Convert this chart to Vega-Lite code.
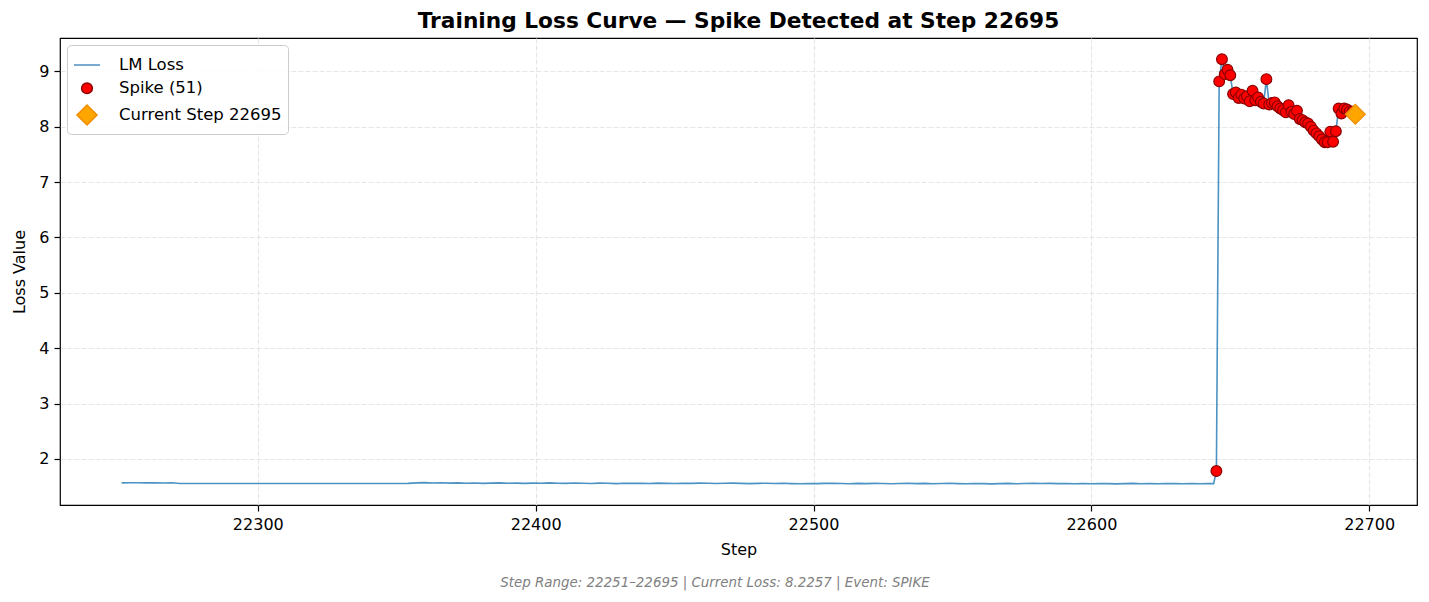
{
  "$schema": "https://vega.github.io/schema/vega-lite/v6.json",
  "width": 1357,
  "height": 467,
  "autosize": {"type": "none"},
  "padding": {"left": 60, "top": 38, "right": 12, "bottom": 97},
  "background": "white",
  "config": {
    "font": "DejaVu Sans",
    "view": {"stroke": "black", "strokeWidth": 1.2},
    "axis": {
      "labelFont": "DejaVu Sans",
      "titleFont": "DejaVu Sans",
      "labelFontSize": 16,
      "titleFontSize": 16,
      "titleFontWeight": "normal",
      "labelColor": "black",
      "titleColor": "black",
      "tickColor": "black",
      "tickWidth": 1.2,
      "tickSize": 6,
      "labelPadding": 5,
      "domain": false,
      "gridColor": "#e6e6e6",
      "gridDash": [5, 2],
      "gridWidth": 1.2
    },
    "legend": {
      "title": null,
      "orient": "top-left",
      "offset": 7,
      "padding": 6,
      "fillColor": "rgba(255,255,255,0.85)",
      "strokeColor": "#cccccc",
      "cornerRadius": 4,
      "labelFontSize": 16.5,
      "labelFont": "DejaVu Sans",
      "labelColor": "black",
      "labelOffset": 18,
      "labelLimit": 400,
      "rowPadding": 5,
      "symbolOpacity": 1
    }
  },
  "title": {
    "text": "Training Loss Curve — Spike Detected at Step 22695",
    "fontSize": 21.7,
    "fontWeight": "bold",
    "color": "black",
    "anchor": "middle",
    "frame": "group",
    "offset": 5
  },
  "datasets": {
    "loss": [
      {"step": 22251, "loss": 1.566, "kind": "normal"},
      {"step": 22254, "loss": 1.568, "kind": "normal"},
      {"step": 22257, "loss": 1.570, "kind": "normal"},
      {"step": 22260, "loss": 1.567, "kind": "normal"},
      {"step": 22263, "loss": 1.569, "kind": "normal"},
      {"step": 22266, "loss": 1.565, "kind": "normal"},
      {"step": 22269, "loss": 1.568, "kind": "normal"},
      {"step": 22272, "loss": 1.556, "kind": "normal"},
      {"step": 22275, "loss": 1.555, "kind": "normal"},
      {"step": 22278, "loss": 1.555, "kind": "normal"},
      {"step": 22281, "loss": 1.555, "kind": "normal"},
      {"step": 22284, "loss": 1.555, "kind": "normal"},
      {"step": 22287, "loss": 1.555, "kind": "normal"},
      {"step": 22290, "loss": 1.555, "kind": "normal"},
      {"step": 22293, "loss": 1.555, "kind": "normal"},
      {"step": 22296, "loss": 1.555, "kind": "normal"},
      {"step": 22299, "loss": 1.555, "kind": "normal"},
      {"step": 22302, "loss": 1.555, "kind": "normal"},
      {"step": 22305, "loss": 1.555, "kind": "normal"},
      {"step": 22308, "loss": 1.555, "kind": "normal"},
      {"step": 22311, "loss": 1.555, "kind": "normal"},
      {"step": 22314, "loss": 1.555, "kind": "normal"},
      {"step": 22317, "loss": 1.555, "kind": "normal"},
      {"step": 22320, "loss": 1.555, "kind": "normal"},
      {"step": 22323, "loss": 1.555, "kind": "normal"},
      {"step": 22326, "loss": 1.555, "kind": "normal"},
      {"step": 22329, "loss": 1.555, "kind": "normal"},
      {"step": 22332, "loss": 1.555, "kind": "normal"},
      {"step": 22335, "loss": 1.555, "kind": "normal"},
      {"step": 22338, "loss": 1.555, "kind": "normal"},
      {"step": 22341, "loss": 1.555, "kind": "normal"},
      {"step": 22344, "loss": 1.555, "kind": "normal"},
      {"step": 22347, "loss": 1.555, "kind": "normal"},
      {"step": 22350, "loss": 1.555, "kind": "normal"},
      {"step": 22354, "loss": 1.557, "kind": "normal"},
      {"step": 22357, "loss": 1.566, "kind": "normal"},
      {"step": 22360, "loss": 1.571, "kind": "normal"},
      {"step": 22363, "loss": 1.565, "kind": "normal"},
      {"step": 22366, "loss": 1.569, "kind": "normal"},
      {"step": 22369, "loss": 1.562, "kind": "normal"},
      {"step": 22372, "loss": 1.567, "kind": "normal"},
      {"step": 22375, "loss": 1.560, "kind": "normal"},
      {"step": 22378, "loss": 1.565, "kind": "normal"},
      {"step": 22381, "loss": 1.558, "kind": "normal"},
      {"step": 22384, "loss": 1.563, "kind": "normal"},
      {"step": 22387, "loss": 1.566, "kind": "normal"},
      {"step": 22390, "loss": 1.559, "kind": "normal"},
      {"step": 22393, "loss": 1.562, "kind": "normal"},
      {"step": 22396, "loss": 1.557, "kind": "normal"},
      {"step": 22399, "loss": 1.563, "kind": "normal"},
      {"step": 22402, "loss": 1.560, "kind": "normal"},
      {"step": 22405, "loss": 1.566, "kind": "normal"},
      {"step": 22408, "loss": 1.561, "kind": "normal"},
      {"step": 22411, "loss": 1.558, "kind": "normal"},
      {"step": 22414, "loss": 1.564, "kind": "normal"},
      {"step": 22417, "loss": 1.560, "kind": "normal"},
      {"step": 22420, "loss": 1.556, "kind": "normal"},
      {"step": 22423, "loss": 1.562, "kind": "normal"},
      {"step": 22426, "loss": 1.559, "kind": "normal"},
      {"step": 22429, "loss": 1.554, "kind": "normal"},
      {"step": 22432, "loss": 1.561, "kind": "normal"},
      {"step": 22435, "loss": 1.557, "kind": "normal"},
      {"step": 22438, "loss": 1.560, "kind": "normal"},
      {"step": 22441, "loss": 1.556, "kind": "normal"},
      {"step": 22444, "loss": 1.562, "kind": "normal"},
      {"step": 22447, "loss": 1.558, "kind": "normal"},
      {"step": 22450, "loss": 1.555, "kind": "normal"},
      {"step": 22453, "loss": 1.561, "kind": "normal"},
      {"step": 22456, "loss": 1.557, "kind": "normal"},
      {"step": 22459, "loss": 1.563, "kind": "normal"},
      {"step": 22462, "loss": 1.559, "kind": "normal"},
      {"step": 22465, "loss": 1.555, "kind": "normal"},
      {"step": 22468, "loss": 1.560, "kind": "normal"},
      {"step": 22471, "loss": 1.562, "kind": "normal"},
      {"step": 22474, "loss": 1.557, "kind": "normal"},
      {"step": 22477, "loss": 1.553, "kind": "normal"},
      {"step": 22480, "loss": 1.558, "kind": "normal"},
      {"step": 22483, "loss": 1.561, "kind": "normal"},
      {"step": 22486, "loss": 1.556, "kind": "normal"},
      {"step": 22489, "loss": 1.559, "kind": "normal"},
      {"step": 22492, "loss": 1.554, "kind": "normal"},
      {"step": 22495, "loss": 1.551, "kind": "normal"},
      {"step": 22498, "loss": 1.556, "kind": "normal"},
      {"step": 22501, "loss": 1.553, "kind": "normal"},
      {"step": 22504, "loss": 1.557, "kind": "normal"},
      {"step": 22507, "loss": 1.560, "kind": "normal"},
      {"step": 22510, "loss": 1.555, "kind": "normal"},
      {"step": 22513, "loss": 1.552, "kind": "normal"},
      {"step": 22516, "loss": 1.557, "kind": "normal"},
      {"step": 22519, "loss": 1.554, "kind": "normal"},
      {"step": 22522, "loss": 1.558, "kind": "normal"},
      {"step": 22525, "loss": 1.555, "kind": "normal"},
      {"step": 22528, "loss": 1.551, "kind": "normal"},
      {"step": 22531, "loss": 1.556, "kind": "normal"},
      {"step": 22534, "loss": 1.559, "kind": "normal"},
      {"step": 22537, "loss": 1.554, "kind": "normal"},
      {"step": 22540, "loss": 1.557, "kind": "normal"},
      {"step": 22543, "loss": 1.552, "kind": "normal"},
      {"step": 22546, "loss": 1.556, "kind": "normal"},
      {"step": 22549, "loss": 1.559, "kind": "normal"},
      {"step": 22552, "loss": 1.554, "kind": "normal"},
      {"step": 22555, "loss": 1.551, "kind": "normal"},
      {"step": 22558, "loss": 1.556, "kind": "normal"},
      {"step": 22561, "loss": 1.553, "kind": "normal"},
      {"step": 22564, "loss": 1.549, "kind": "normal"},
      {"step": 22567, "loss": 1.554, "kind": "normal"},
      {"step": 22570, "loss": 1.557, "kind": "normal"},
      {"step": 22573, "loss": 1.552, "kind": "normal"},
      {"step": 22576, "loss": 1.556, "kind": "normal"},
      {"step": 22579, "loss": 1.559, "kind": "normal"},
      {"step": 22582, "loss": 1.555, "kind": "normal"},
      {"step": 22585, "loss": 1.558, "kind": "normal"},
      {"step": 22588, "loss": 1.553, "kind": "normal"},
      {"step": 22591, "loss": 1.556, "kind": "normal"},
      {"step": 22594, "loss": 1.551, "kind": "normal"},
      {"step": 22597, "loss": 1.555, "kind": "normal"},
      {"step": 22600, "loss": 1.552, "kind": "normal"},
      {"step": 22603, "loss": 1.556, "kind": "normal"},
      {"step": 22606, "loss": 1.553, "kind": "normal"},
      {"step": 22609, "loss": 1.549, "kind": "normal"},
      {"step": 22612, "loss": 1.554, "kind": "normal"},
      {"step": 22615, "loss": 1.557, "kind": "normal"},
      {"step": 22618, "loss": 1.552, "kind": "normal"},
      {"step": 22621, "loss": 1.555, "kind": "normal"},
      {"step": 22624, "loss": 1.551, "kind": "normal"},
      {"step": 22627, "loss": 1.554, "kind": "normal"},
      {"step": 22630, "loss": 1.556, "kind": "normal"},
      {"step": 22633, "loss": 1.552, "kind": "normal"},
      {"step": 22636, "loss": 1.555, "kind": "normal"},
      {"step": 22639, "loss": 1.551, "kind": "normal"},
      {"step": 22642, "loss": 1.554, "kind": "normal"},
      {"step": 22644, "loss": 1.553, "kind": "normal"},
      {"step": 22645, "loss": 1.78, "kind": "spike"},
      {"step": 22646, "loss": 8.82, "kind": "spike"},
      {"step": 22647, "loss": 9.22, "kind": "spike"},
      {"step": 22648, "loss": 8.95, "kind": "spike"},
      {"step": 22649, "loss": 9.03, "kind": "spike"},
      {"step": 22650, "loss": 8.93, "kind": "spike"},
      {"step": 22651, "loss": 8.59, "kind": "spike"},
      {"step": 22652, "loss": 8.62, "kind": "spike"},
      {"step": 22653, "loss": 8.52, "kind": "spike"},
      {"step": 22654, "loss": 8.58, "kind": "spike"},
      {"step": 22655, "loss": 8.51, "kind": "spike"},
      {"step": 22656, "loss": 8.55, "kind": "spike"},
      {"step": 22657, "loss": 8.46, "kind": "spike"},
      {"step": 22658, "loss": 8.65, "kind": "spike"},
      {"step": 22659, "loss": 8.48, "kind": "spike"},
      {"step": 22660, "loss": 8.53, "kind": "spike"},
      {"step": 22661, "loss": 8.45, "kind": "spike"},
      {"step": 22662, "loss": 8.42, "kind": "spike"},
      {"step": 22663, "loss": 8.86, "kind": "spike"},
      {"step": 22664, "loss": 8.40, "kind": "spike"},
      {"step": 22665, "loss": 8.43, "kind": "spike"},
      {"step": 22666, "loss": 8.44, "kind": "spike"},
      {"step": 22667, "loss": 8.37, "kind": "spike"},
      {"step": 22668, "loss": 8.33, "kind": "spike"},
      {"step": 22669, "loss": 8.30, "kind": "spike"},
      {"step": 22670, "loss": 8.26, "kind": "spike"},
      {"step": 22671, "loss": 8.39, "kind": "spike"},
      {"step": 22672, "loss": 8.27, "kind": "spike"},
      {"step": 22673, "loss": 8.23, "kind": "spike"},
      {"step": 22674, "loss": 8.29, "kind": "spike"},
      {"step": 22675, "loss": 8.14, "kind": "spike"},
      {"step": 22676, "loss": 8.12, "kind": "spike"},
      {"step": 22677, "loss": 8.08, "kind": "spike"},
      {"step": 22678, "loss": 8.06, "kind": "spike"},
      {"step": 22679, "loss": 8.00, "kind": "spike"},
      {"step": 22680, "loss": 7.93, "kind": "spike"},
      {"step": 22681, "loss": 7.88, "kind": "spike"},
      {"step": 22682, "loss": 7.83, "kind": "spike"},
      {"step": 22683, "loss": 7.77, "kind": "spike"},
      {"step": 22684, "loss": 7.72, "kind": "spike"},
      {"step": 22685, "loss": 7.72, "kind": "spike"},
      {"step": 22686, "loss": 7.91, "kind": "spike"},
      {"step": 22687, "loss": 7.73, "kind": "spike"},
      {"step": 22688, "loss": 7.92, "kind": "spike"},
      {"step": 22689, "loss": 8.33, "kind": "spike"},
      {"step": 22690, "loss": 8.24, "kind": "spike"},
      {"step": 22691, "loss": 8.33, "kind": "spike"},
      {"step": 22692, "loss": 8.31, "kind": "spike"},
      {"step": 22693, "loss": 8.28, "kind": "spike"},
      {"step": 22694, "loss": 8.27, "kind": "spike"},
      {"step": 22695, "loss": 8.2257, "kind": "spike"}
    ],
    "current": [
      {"step": 22695, "loss": 8.2257}
    ]
  },
  "resolve": {"axis": {"x": "independent"}},
  "layer": [
    {
      "data": {"name": "loss"},
      "mark": {"type": "line", "strokeWidth": 1.6, "opacity": 0.8, "color": "#1f77b4"},
      "encoding": {
        "x": {
          "field": "step", "type": "quantitative",
          "scale": {"domain": [22228.8, 22717.2], "nice": false, "zero": false},
          "axis": {"values": [22300, 22400, 22500, 22600, 22700], "format": "d", "title": "Step", "titlePadding": 9, "grid": true, "labelFlush": false}
        },
        "y": {
          "field": "loss", "type": "quantitative",
          "scale": {"domain": [1.167, 9.603], "nice": false, "zero": false},
          "axis": {"values": [2, 3, 4, 5, 6, 7, 8, 9], "format": "d", "title": "Loss Value", "titlePadding": 11, "grid": true}
        }
      }
    },
    {
      "data": {"name": "loss"},
      "transform": [{"filter": "datum.kind === 'spike'"}],
      "mark": {"type": "point", "shape": "circle", "filled": true, "opacity": 1, "strokeWidth": 1.2},
      "encoding": {
        "x": {"field": "step", "type": "quantitative", "axis": null},
        "y": {"field": "loss", "type": "quantitative"},
        "color": {"datum": "Spike (51)", "type": "nominal",
          "scale": {"domain": ["Spike (51)", "Current Step 22695", "LM Loss"], "range": ["#ff0000", "#ffa500", "#4c8fc3"]},
          "legend": {"values": ["LM Loss", "Spike (51)", "Current Step 22695"]}},
        "stroke": {"datum": "Spike (51)", "type": "nominal",
          "scale": {"domain": ["Spike (51)", "Current Step 22695", "LM Loss"], "range": ["#8b0000", "#f08c00", "#4c8fc3"]},
          "legend": {"values": ["LM Loss", "Spike (51)", "Current Step 22695"]}},
        "shape": {"datum": "Spike (51)", "type": "nominal",
          "scale": {"domain": ["Spike (51)", "Current Step 22695", "LM Loss"], "range": ["circle", "diamond", "stroke"]},
          "legend": {"values": ["LM Loss", "Spike (51)", "Current Step 22695"]}},
        "size": {"datum": "Spike (51)", "type": "nominal",
          "scale": {"domain": ["Spike (51)", "Current Step 22695", "LM Loss"], "range": [115, 685], "padding": 0},
          "legend": {"values": ["LM Loss", "Spike (51)", "Current Step 22695"]}}
      }
    },
    {
      "data": {"name": "current"},
      "mark": {"type": "point", "shape": "diamond", "filled": true, "opacity": 1, "strokeWidth": 1.2},
      "encoding": {
        "x": {
          "field": "step", "type": "quantitative",
          "axis": {
            "orient": "bottom",
            "title": "Step Range: 22251–22695 | Current Loss: 8.2257 | Event: SPIKE",
            "labels": false, "ticks": false, "domain": false, "grid": false,
            "titleFontStyle": "italic", "titleColor": "#808080", "titleFontSize": 13.4,
            "titleFontWeight": "normal",
            "titleX": 654.5, "titleY": 77, "titleAlign": "center", "titleBaseline": "middle"
          }
        },
        "y": {"field": "loss", "type": "quantitative"},
        "color": {"datum": "Current Step 22695", "type": "nominal"},
        "stroke": {"datum": "Current Step 22695", "type": "nominal"},
        "shape": {"datum": "Current Step 22695", "type": "nominal"},
        "size": {"datum": "Current Step 22695", "type": "nominal"}
      }
    }
  ]
}
